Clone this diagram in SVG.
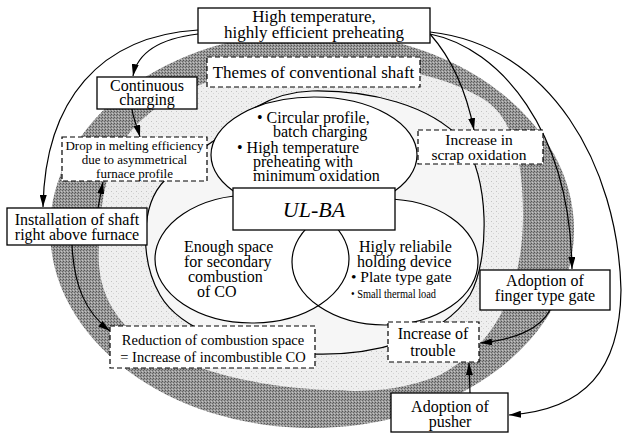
<svg xmlns="http://www.w3.org/2000/svg" width="624" height="434" viewBox="0 0 624 434" font-family="'Liberation Serif', Tinos, 'Times New Roman', 'DejaVu Serif', serif">
<defs>
<pattern id="hatch" width="3" height="3" patternUnits="userSpaceOnUse">
<rect width="3" height="3" fill="#9a9a9a"/>
<rect x="0" y="0" width="1" height="1" fill="#555"/>
<rect x="2" y="1" width="1" height="1" fill="#666"/>
<rect x="1" y="2" width="1" height="1" fill="#c4c4c4"/>
</pattern>
<pattern id="stip" width="5" height="5" patternUnits="userSpaceOnUse">
<rect width="5" height="5" fill="#efefef"/>
<rect x="1" y="1" width="1" height="1" fill="#c4c4c4"/>
<rect x="3" y="3" width="1" height="1" fill="#d6d6d6"/>
</pattern>
<marker id="ah" markerUnits="userSpaceOnUse" markerWidth="12" markerHeight="7" refX="12" refY="3.5" orient="auto"><path d="M0,0 L12,3.5 L0,7 Z" fill="#000"/></marker>
</defs>
<style>
text{font-family:'Liberation Serif',Tinos,'Times New Roman','DejaVu Serif',serif;fill:#000}
.box{fill:#fff;stroke:#000;stroke-width:1.3}
.dbox{fill:#fff;stroke:#000;stroke-width:1.2;stroke-dasharray:5 3}
.ln{fill:none;stroke:#000;stroke-width:1.2}
.arr{fill:none;stroke:#000;stroke-width:1.2;marker-end:url(#ah)}
.t16{font-size:16px}
.c{text-anchor:middle}
</style>
<rect width="624" height="434" fill="#fff"/>
<g id="background">
<ellipse cx="312" cy="230" rx="262" ry="198" fill="url(#hatch)"/>
<path d="M312,64 C380,64 440,72 485,100 C515,120 523,165 523,215 C523,290 495,345 440,375 C400,392 360,392 330,390 C270,388 200,375 150,345 C110,320 96,285 99,245 C100,200 108,160 130,132 C160,95 230,64 312,64 Z" fill="url(#stip)"/>
<path d="M312,91 C370,90 430,105 462,140 C490,175 490,260 470,295 C440,340 370,356 312,354 C240,352 180,330 160,295 C140,260 140,205 165,180 C185,160 200,150 215,140 C240,115 270,92 312,91 Z" fill="#f6f6f6" stroke="#000" stroke-width="1.2"/>
<ellipse cx="314" cy="155" rx="103" ry="58" fill="#fff"/>
<ellipse cx="252" cy="259" rx="97" ry="64" fill="#fff"/>
<ellipse cx="385" cy="262" rx="93" ry="63" fill="#fff"/>
<ellipse cx="314" cy="155" rx="103" ry="58" class="ln"/>
<ellipse cx="252" cy="259" rx="97" ry="64" class="ln"/>
<ellipse cx="385" cy="262" rx="93" ry="63" class="ln"/>
</g>
<g id="connectors">
<path class="arr" d="M198,34 C165,38 138,50 133,76"/>
<path class="arr" d="M198,30 C100,36 45,100 43,207"/>
<path class="arr" d="M430,34 Q462,70 474,130"/>
<path class="arr" d="M430,34 C500,48 570,130 572,269"/>
<path class="arr" d="M430,32 C550,45 618,165 621,290 C620,370 585,410 509,415"/>
<path class="arr" d="M132,109 C133,118 137,126 140,137"/>
<path class="arr" d="M98,208 L103,182"/>
<path class="arr" d="M72,245 C74,285 85,312 110,331"/>
<path class="arr" d="M550,310 C540,330 512,340 480,343"/>
<path class="arr" d="M470,393 L469,363"/>
</g>
<g id="node-top">
<rect class="box" x="198" y="8" width="232" height="35"/>
<text class="c" x="314" y="22" font-size="17">High temperature,</text>
<text class="c" x="314" y="38" font-size="17">highly efficient preheating</text>
</g>
<g id="node-themes">
<rect class="dbox" x="207" y="57" width="213" height="30"/>
<text class="c" x="313.5" y="78" font-size="17">Themes of conventional shaft</text>
</g>
<g id="node-continuous">
<rect class="box" x="97" y="77" width="100" height="32"/>
<text class="c t16" x="147" y="91">Continuous</text>
<text class="c t16" x="147" y="105">charging</text>
</g>
<g id="node-drop">
<rect class="dbox" x="62" y="137" width="145" height="44"/>
<text class="c" x="134.5" y="150" font-size="13">Drop in melting efficiency</text>
<text class="c" x="134.5" y="164" font-size="13">due to asymmetrical</text>
<text class="c" x="134.5" y="178" font-size="13">furnace profile</text>
</g>
<g id="node-oxidation">
<rect class="dbox" x="418" y="130" width="125" height="34"/>
<text class="c" x="479" y="144.5" font-size="15.5">Increase in</text>
<text class="c" x="479" y="159.5" font-size="15.5">scrap oxidation</text>
</g>
<g id="node-circle-top">
<text class="t16" x="257" y="123">• Circular profile,</text>
<text class="t16" x="273" y="137">batch charging</text>
<text class="t16" x="237" y="153">• High temperature</text>
<text class="t16" x="253" y="167">preheating with</text>
<text class="t16" x="253" y="181">minimum oxidation</text>
</g>
<g id="node-ulba">
<rect class="box" x="233" y="188" width="162" height="42" stroke-width="1.5"/>
<text class="c" x="314" y="217" font-size="22" font-style="italic">UL-BA</text>
</g>
<g id="node-circle-left">
<text class="t16" x="184" y="252">Enough space</text>
<text class="t16" x="184" y="267">for secondary</text>
<text class="t16" x="188" y="282">combustion</text>
<text class="t16" x="197" y="297">of CO</text>
</g>
<g id="node-circle-right">
<text class="t16" x="359" y="252">Higly reliabile</text>
<text class="t16" x="357" y="267">holding device</text>
<text x="351" y="282" font-size="15.5">• Plate type gate</text>
<text x="351" y="298" font-size="12" textLength="85" lengthAdjust="spacingAndGlyphs">• Small thermal load</text>
</g>
<g id="node-installation">
<rect class="box" x="7" y="208" width="140" height="37"/>
<text class="c t16" x="77" y="225">Installation of shaft</text>
<text class="c t16" x="77" y="239.5">right above furnace</text>
</g>
<g id="node-reduction">
<rect class="dbox" x="110" y="326" width="205" height="42"/>
<text class="c" x="213" y="345" font-size="14.5">Reduction of combustion space</text>
<text class="c" x="213" y="362" font-size="14.5">= Increase of incombustible CO</text>
</g>
<g id="node-finger">
<rect class="box" x="480" y="270" width="130" height="40"/>
<text class="c t16" x="545" y="286">Adoption of</text>
<text class="c t16" x="545" y="301">finger type gate</text>
</g>
<g id="node-trouble">
<rect class="dbox" x="388" y="322" width="91" height="40"/>
<text class="c t16" x="433" y="339">Increase of</text>
<text class="c t16" x="433" y="356">trouble</text>
</g>
<g id="node-pusher">
<rect class="box" x="391" y="393" width="117" height="39"/>
<text class="c t16" x="450" y="412">Adoption of</text>
<text class="c t16" x="450" y="427">pusher</text>
</g>
</svg>
